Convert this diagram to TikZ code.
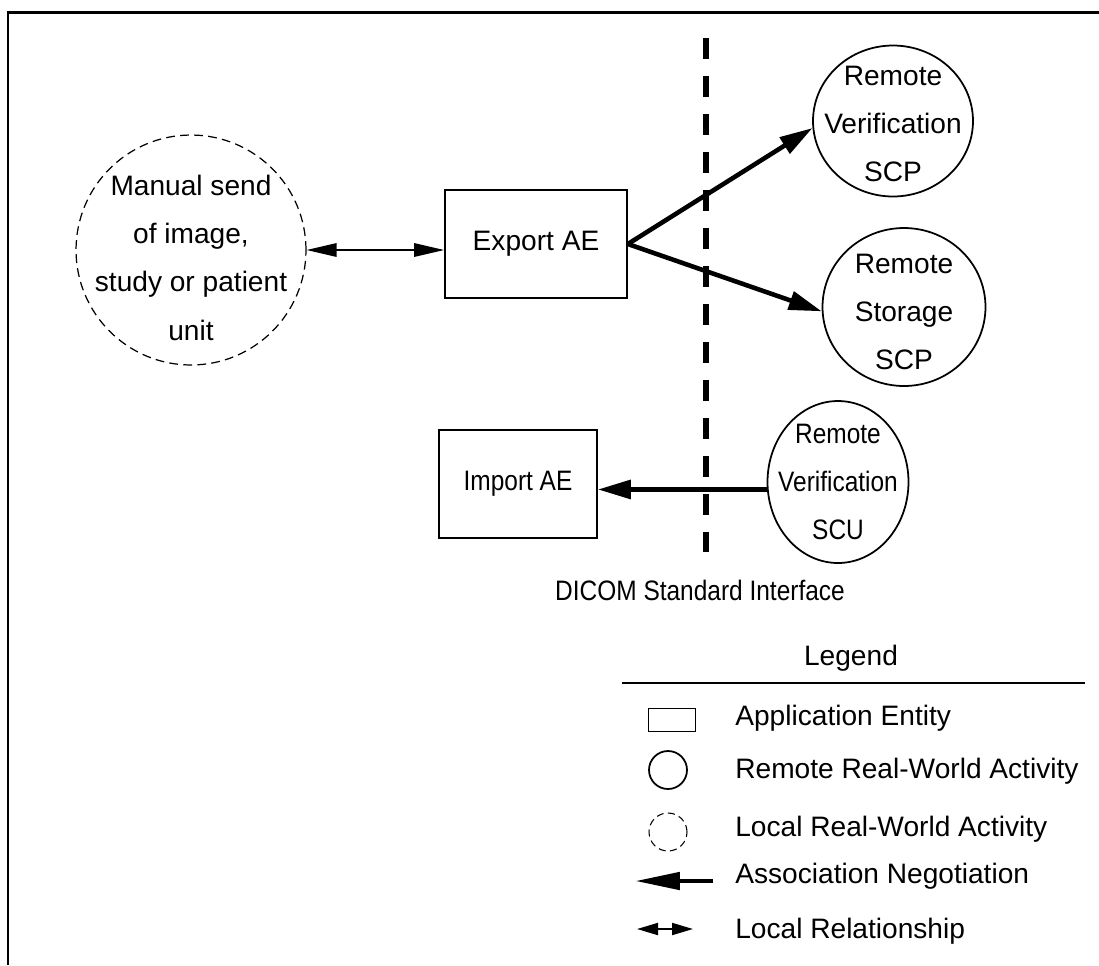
\documentclass[tikz,border=0pt]{standalone}
\usepackage{fontspec}
\setmainfont{Liberation Sans}
\newfontfamily\narrowsans[FakeStretch=0.87]{Liberation Sans}
\usetikzlibrary{arrows.meta,shapes.geometric}
\begin{document}
\begin{tikzpicture}[
        x=0.02cm, y=-0.02cm,
        every node/.style={font=\fontsize{16}{27.5}\selectfont},
        narrow/.style={font=\fontsize{16}{27.5}\selectfont\narrowsans},
        aebox/.style={rectangle, draw, line width=1pt, minimum height=2.16cm},
        remote/.style={ellipse, draw, line width=1pt, inner sep=0pt},
        localact/.style={circle, draw, line width=0.7pt, dash pattern=on 5pt off 3pt, inner sep=0pt},
        assoc/.style={-{Triangle[length=0.66cm, width=0.37cm]}, line width=2.6pt},
        localrel/.style={{Triangle[length=0.6cm, width=0.27cm]}-{Triangle[length=0.6cm, width=0.27cm]}, line width=0.9pt},
        iface/.style={line width=3.4pt, dash pattern=on 0.42cm off 0.34cm},
        legtext/.style={anchor=west, inner sep=0pt}
    ]
        \useasboundingbox (0,0) rectangle (1099,965);
        % Rahmen
        \draw[line width=1.7pt] (8,965) -- (8,12) -- (1099,12);

        % lokale Aktivitaet
        \node[localact, minimum size=4.6cm, label={[align=center, yshift=-0.15cm]center:Manual send\\of image,\\study or patient\\unit}] at (191,250) (manual) {};

        % Application Entities
        \node[aebox, minimum width=3.64cm] at (536,244) (export) {Export AE};
        \node[aebox, narrow, minimum width=3.16cm] at (518,484) (import) {Import AE};

        % entfernte Aktivitaeten
        \node[remote, minimum width=3.2cm, minimum height=3.02cm, label={[align=center, yshift=-0.06cm]center:Remote\\Verification\\SCP}] at (893,121) (rvscp) {};
        \node[remote, minimum width=3.26cm, minimum height=3.16cm, label={[align=center, yshift=-0.1cm]center:Remote\\Storage\\SCP}] at (904,307) (rsscp) {};
        \node[remote, minimum width=2.82cm, minimum height=3.24cm, label={[align=center, narrow]center:Remote\\Verification\\SCU}] at (838,482) (rvscu) {};

        % DICOM Schnittstelle
        \coordinate (ifacetop) at (706,38);
        \coordinate (ifacebot) at (706,552);
        \draw[iface] (ifacetop) -- (ifacebot);
        \node[narrow] at (700,590) (ifacelabel) {DICOM Standard Interface};

        % Verbindungen
        \draw[localrel] (manual.east) -- (manual.east -| export.west);
        \draw[assoc] (export.east) -- (rvscp.185);
        \draw[assoc] (export.east) -- (rsscp.183);
        \draw[assoc] (rvscu.186) -- (rvscu.186 -| import.east);

        % Legende
        \node at (851,658) (legtitle) {Legend};
        \coordinate (legruleL) at (622,683);
        \coordinate (legruleR) at (1085,683);
        \draw[line width=0.8pt] (legruleL) -- (legruleR);

        \node[rectangle, draw, line width=1pt, minimum width=0.94cm, minimum height=0.46cm, inner sep=0pt] at (672,720) (legbox) {};
        \node[circle, draw, line width=1pt, minimum size=0.76cm, inner sep=0pt] at (668,770) (legcircle) {};
        \node[localact, line width=0.6pt, dash pattern=on 4pt off 2.5pt, minimum size=0.76cm] at (668,832) (legdash) {};
        \coordinate (legassocR) at (713,881);
        \coordinate (legassocL) at (635,881);
        \draw[-{Triangle[length=0.9cm, width=0.34cm]}, line width=2.8pt] (legassocR) -- (legassocL);
        \coordinate (legrelL) at (637,929);
        \coordinate (legrelR) at (693,929);
        \draw[{Triangle[length=0.42cm, width=0.24cm]}-{Triangle[length=0.42cm, width=0.24cm]}, line width=1.1pt] (legrelL) -- (legrelR);

        \node[legtext] at (735,718) (legae) {Application Entity};
        \node[legtext] at (735,771) (legremote) {Remote Real-World Activity};
        \node[legtext] at (735,829) (leglocal) {Local Real-World Activity};
        \node[legtext] at (735,876) (legassoc) {Association Negotiation};
        \node[legtext] at (735,931) (legrel) {Local Relationship};
    \end{tikzpicture}
\end{document}
